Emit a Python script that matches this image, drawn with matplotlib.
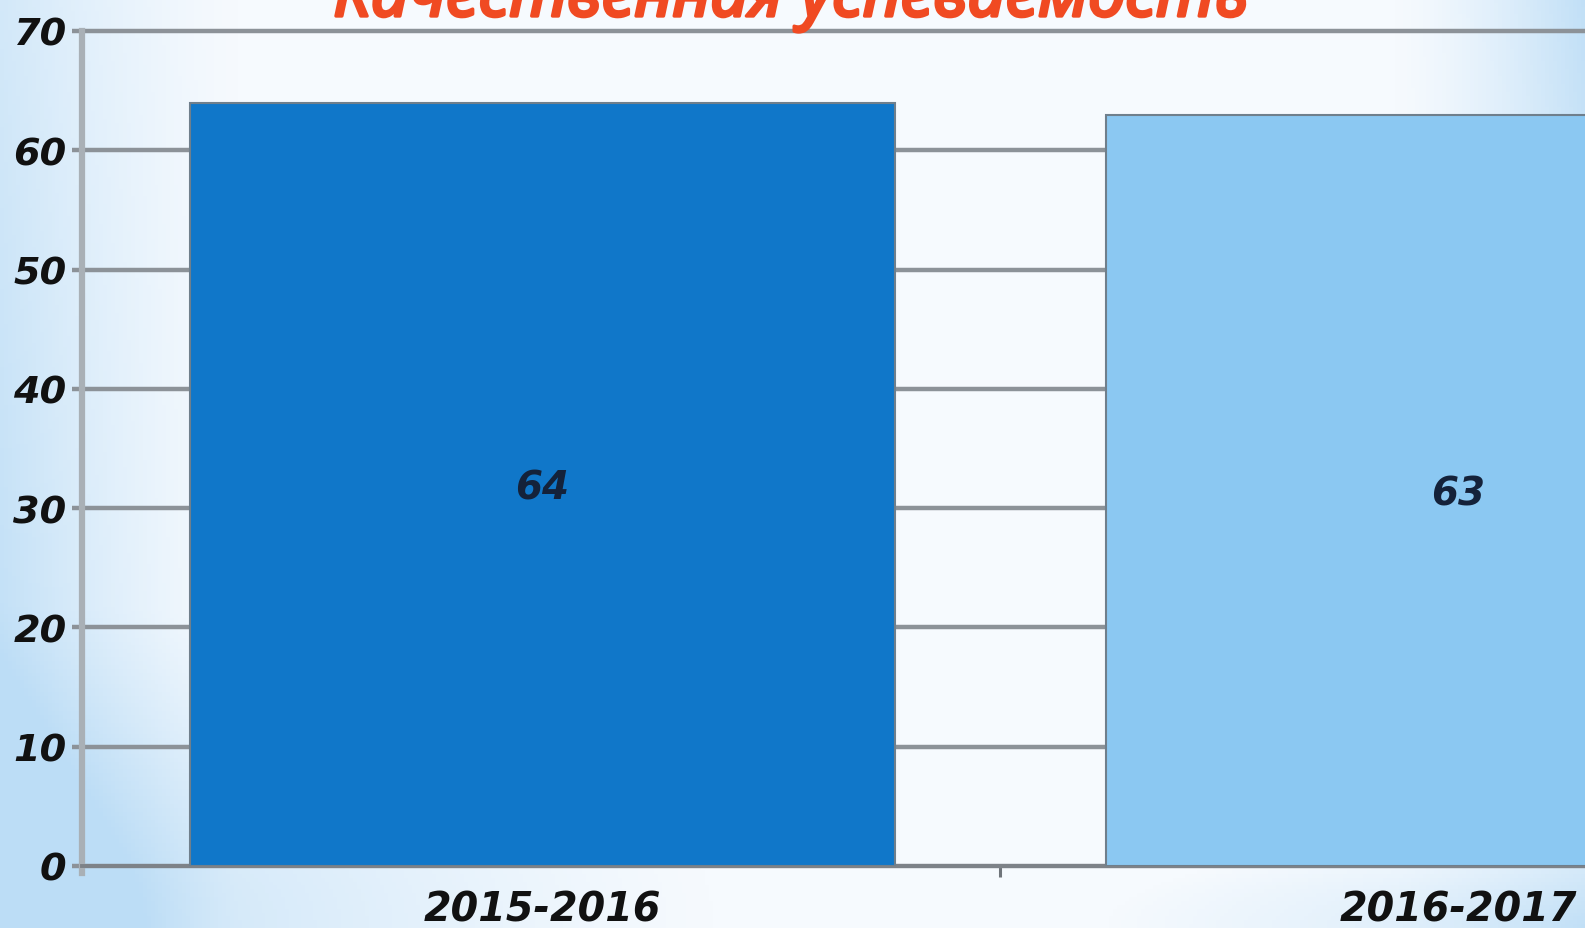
import numpy as np
import matplotlib
matplotlib.use("Agg")
import matplotlib.pyplot as plt
import matplotlib.patheffects as pe
from matplotlib.colors import to_rgb

# ---- data ----
categories = ["2015-2016", "2016-2017"]
values = [64, 63]
bar_colors = ["#1077C9", "#8BC8F2"]
yticks = [0, 10, 20, 30, 40, 50, 60, 70]
title = "Качественная успеваемость"

W, H, DPI = 1585, 929, 100
fig = plt.figure(figsize=(W / DPI, H / DPI), dpi=DPI)

# ---- background gradient ----
bg = fig.add_axes([0, 0, 1, 1], zorder=-10)
bg.set_axis_off()
nx, ny = 400, 240
xx, yy = np.meshgrid(np.linspace(0, 1, nx), np.linspace(0, 1, ny))  # yy: 0 top, 1 bottom
base = np.array(to_rgb("#F6FAFE"))
blue = np.array(to_rgb("#BCDDF6"))
left = np.clip(1 - xx / 0.15, 0, 1) ** 1.3 * (0.6 + 0.4 * yy)
botleft = np.clip(1 - np.hypot(xx / 0.45, (1 - yy) / 0.35), 0, 1) ** 1.2 * 0.9
right = np.clip(1 - (1 - xx) / 0.12, 0, 1) ** 1.4 * (0.9 - 0.6 * yy)
botright = np.clip(1 - np.hypot((1 - xx) / 0.3, (1 - yy) / 0.1), 0, 1) * 0.6
w = np.clip(left + botleft + right + botright, 0, 1)[..., None]
img = base * (1 - w) + blue * w
bg.imshow(img, aspect="auto", extent=[0, 1, 0, 1], origin="upper")
bg.set_xlim(0, 1)
bg.set_ylim(0, 1)

# ---- main axes ----
ax = fig.add_axes([82 / W, 62 / H, (W - 82) / W, 835 / H])
ax.patch.set_alpha(0)
x = np.arange(len(categories))
ax.bar(x, values, width=0.77, color=bar_colors, edgecolor="#6f7f8c",
       linewidth=1.5, zorder=3)
for xi, v in zip(x, values):
    ax.text(xi, v / 2 - 0.25, str(v), ha="center", va="center", fontsize=28,
            fontstyle="italic", fontweight="bold", color="#14223a", zorder=4)

ax.set_ylim(0, 70)
ax.set_xlim(-0.503, 1.1387)
ax.set_yticks(yticks)
ax.set_yticklabels([str(t) for t in yticks])
ax.set_xticks(x)
ax.set_xticklabels(categories)
ax.yaxis.grid(True, color="#8c9298", linewidth=3.2, zorder=1)
ax.set_axisbelow(True)
for gl in ax.get_ygridlines():
    gl.set_clip_on(False)

for s in ["top", "right"]:
    ax.spines[s].set_visible(False)
ax.spines["left"].set_color("#a9b0b6")
ax.spines["left"].set_linewidth(4.5)
ax.spines["left"].set_bounds(-0.6, 70)
ax.spines["bottom"].set_color("#7d8288")
ax.spines["bottom"].set_linewidth(2.8)

ax.tick_params(axis="y", length=7, width=3.2, color="#8c9298", pad=4,
               labelsize=27.5)
ax.tick_params(axis="x", length=0, pad=17, labelsize=28.5)
for lab in ax.get_yticklabels() + ax.get_xticklabels():
    lab.set_fontstyle("italic")
    lab.set_fontweight("bold")
    lab.set_color("#111111")

# category separator tick
ax.set_xticks([0.5], minor=True)
ax.tick_params(axis="x", which="minor", length=8, width=2.2, color="#6f747a")

fig.text(791 / W, 1 - 17 / H, title, ha="center", va="baseline",
         fontsize=48, fontstyle="italic", fontweight="bold",
         color="#F04A22", family=["Noto Sans", "DejaVu Sans"],
         path_effects=[pe.withStroke(linewidth=2.4, foreground="#F04A22")])

fig.savefig("out.png", dpi=DPI)
